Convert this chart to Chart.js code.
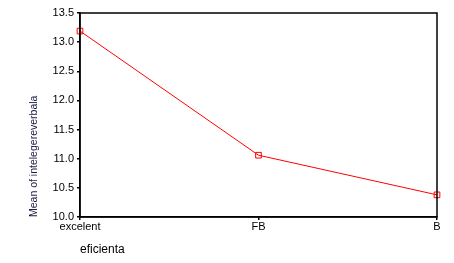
<!DOCTYPE html>
<html><head><meta charset="utf-8">
<script src="https://cdn.jsdelivr.net/npm/chart.js@4"></script>
<style>html,body{margin:0;padding:0;background:#fff}#w{width:454px;height:263px}</style>
</head><body><div id="w"><canvas id="c"></canvas></div>
<script>
const categories = ["excelent", "FB", "B"];
const meanValues = [13.19, 11.06, 10.38];
const yTicks = [10.0, 10.5, 11.0, 11.5, 12.0, 12.5, 13.0, 13.5];

const boxPlugin = {
  id: 'box',
  afterDraw(chart) {
    const {ctx, chartArea: a} = chart;
    ctx.save();
    ctx.strokeStyle = '#000';
    ctx.lineWidth = 1.5;
    ctx.strokeRect(a.left, a.top, a.right - a.left, a.bottom - a.top);
    ctx.restore();
  }
};

new Chart(document.getElementById('c'), {
  type: 'line',
  data: {
    labels: categories,
    datasets: [{
      data: meanValues,
      borderColor: '#ff0000',
      borderWidth: 1,
      pointStyle: 'rect',
      pointRadius: 4,
      pointBackgroundColor: 'rgba(0,0,0,0)',
      pointBorderColor: '#ff0000',
      pointBorderWidth: 1,
      tension: 0,
      clip: false
    }]
  },
  options: {
    responsive: true,
    maintainAspectRatio: false,
    animation: false,
    layout: {padding: {left: 28, right: 17, top: 13, bottom: 0}},
    plugins: {legend: {display: false}, tooltip: {enabled: false}},
    scales: {
      x: {
        offset: false,
        grid: {drawOnChartArea: false, drawTicks: true, tickLength: 3, color: '#000', lineWidth: 1.5},
        border: {color: '#000', width: 1.5},
        ticks: {color: '#000', font: {family: 'Liberation Sans', size: 11}, padding: 0, maxRotation: 0, autoSkip: false},
        title: {display: true, text: 'eficienta', align: 'start', color: '#000', font: {family: 'Liberation Sans', size: 12}, padding: {top: 12, bottom: 6}},
        afterFit(s) { s.height = 46; }
      },
      y: {
        min: 10, max: 13.5,
        afterBuildTicks(s) { s.ticks = yTicks.map(v => ({value: v})); },
        grid: {drawOnChartArea: false, drawTicks: true, tickLength: 3, color: '#000', lineWidth: 1.5},
        border: {color: '#000', width: 1.5},
        ticks: {color: '#000', font: {family: 'Liberation Sans', size: 11}, padding: 3, callback: v => Number(v).toFixed(1)},
        title: {display: true, text: 'Mean of intelegereverbala', align: 'start', color: '#1a1a40', font: {family: 'Liberation Sans', size: 10.5}, padding: {top: 0, bottom: 0}},
        afterFit(s) { s.width = 52; }
      }
    }
  },
  plugins: [boxPlugin]
});
</script></body></html>
